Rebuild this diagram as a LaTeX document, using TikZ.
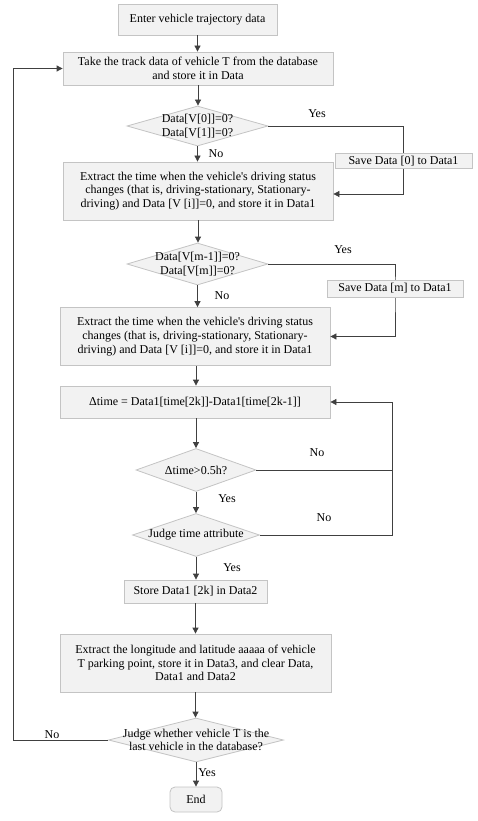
\documentclass[tikz,border=0pt]{standalone}
\usepackage{fontspec}
\setmainfont{Liberation Serif}
\usetikzlibrary{shapes.geometric,arrows.meta}
\definecolor{boxfill}{HTML}{F2F2F2}
\definecolor{boxline}{HTML}{C4C4C4}
\definecolor{conn}{HTML}{404040}
\begin{document}
\begin{tikzpicture}[x=1pt,y=-1pt,
  txt/.style={font=\fontsize{12}{13.7}\selectfont},
  box/.style 2 args={draw=boxline, fill=boxfill, line width=0.8pt, align=center, inner sep=0pt,
     minimum width=#1pt, minimum height=#2pt, txt},
  dia/.style 2 args={diamond, draw=boxline, fill=boxfill, line width=0.8pt, inner sep=0pt,
     minimum width=#1pt, minimum height=#2pt},
  dtext/.style={txt, align=center, inner sep=0pt},
  lbl/.style={txt, inner sep=0pt},
  line/.style={draw=conn, line width=0.8pt},
  arr/.style={line, -{Triangle[length=6pt,width=6pt]}}]
\useasboundingbox (0,0) rectangle (477,821);
\fill[white] (0,0) rectangle (477,821);

% nodes
\node[box={159}{31}] (b1) at (197.5,19.5) {Enter vehicle trajectory data};
\node[box={270}{33}] (b2) at (198,68.5) {Take the track data of vehicle T from the database\\and store it in Data};
\node[dia={141}{40}, label={[dtext]center:Data[V[0]]=0?\\Data[V[1]]=0?}] (d1) at (197.5,126) {};
\node[box={270}{58}] (b3) at (198,191) {Extract the time when the vehicle\textquotesingle s driving status\\changes (that is, driving-stationary, Stationary-\\driving) and Data [V [i]]=0, and store it in Data1};
\node[dia={141}{42}, label={[dtext]center:Data[V[m-1]]=0?\\Data[V[m]]=0?}] (d2) at (197.5,264) {};
\node[box={270}{58}] (b4) at (195,336.5) {Extract the time when the vehicle\textquotesingle s driving status\\changes (that is, driving-stationary, Stationary-\\driving) and Data [V [i]]=0, and store it in Data1};
\node[box={270}{32}] (b5) at (195,402) {Δtime = Data1[time[2k]]-Data1[time[2k-1]]};
\node[dia={120}{43}, label={[dtext]center:Δtime>0.5h?}] (d3) at (196,470) {};
\node[dia={127}{43}, label={[dtext]center:Judge time attribute}] (d4) at (196,535) {};
\node[box={143}{23}] (b6) at (195.5,591.5) {Store Data1 [2k] in Data2};
\node[box={271}{58}] (b7) at (195.5,663) {Extract the longitude and latitude aaaaa of vehicle\\T parking point, store it in Data3, and clear Data,\\Data1 and Data2};
\node[dia={175}{44}, label={[dtext]center:Judge whether vehicle T is the\\last vehicle in the database?}] (d5) at (196,740) {};
\node[box={52}{25}, rounded corners=5pt] (e) at (196,799.5) {End};

\coordinate (fb) at (392,402);
\coordinate (lb) at (13,68.5);
\coordinate (s1c) at (403.5,161);
\coordinate (s2c) at (395,288.5);

% main connectors
\draw[arr] (b1.south) -- (b1.south |- b2.north);
\draw[arr] (b2.south) -- (b2.south |- d1.north);
\draw[arr] (d1.south) -- (d1.south |- b3.north);
\draw[arr] (b3.south) -- (b3.south |- d2.north);
\draw[arr] (d2.south) -- (d2.south |- b4.north);
\draw[arr] ([xshift=1pt]b4.south) -- ([xshift=1pt]b4.south |- b5.north);
\draw[arr] ([xshift=1pt]b5.south) -- ([xshift=1pt]b5.south |- d3.north);
\draw[arr] (d3.south) -- (d3.south |- d4.north);
\draw[arr] (d4.south) -- (d4.south |- b6.north);
\draw[arr] (b6.south) -- (b6.south |- b7.north);
\draw[arr] (b7.south) -- (b7.south |- d5.north);
\draw[arr] (d5.south) -- (d5.south |- e.north);

% side branches
\draw[arr] (d1.east) -| (s1c) |- ([yshift=-3pt]b3.east);
\draw[arr] (d2.east) -| (s2c) |- (b4.east);
\draw[line] (d3.east) -- (d3.east -| fb);
\draw[arr] (d4.east) -| (fb) -- (b5.east);
\draw[arr] (d5.west) -| (lb) -- (b2.west);

% side boxes (drawn over the lines)
\node[box={137}{15}] (s1) at (s1c) {Save Data [0] to Data1};
\node[box={136}{17}] (s2) at (s2c) {Save Data [m] to Data1};

% labels
\node[lbl] (l1) at (317,114) {Yes};
\node[lbl] (l2) at (216,154) {No};
\node[lbl] (l3) at (343,250) {Yes};
\node[lbl] (l4) at (222,296) {No};
\node[lbl] (l5) at (317,453) {No};
\node[lbl] (l6) at (227,499) {Yes};
\node[lbl] (l7) at (324,518) {No};
\node[lbl] (l8) at (232,568) {Yes};
\node[lbl] (l9) at (52,735) {No};
\node[lbl] (l10) at (207,773) {Yes};
\end{tikzpicture}
\end{document}
